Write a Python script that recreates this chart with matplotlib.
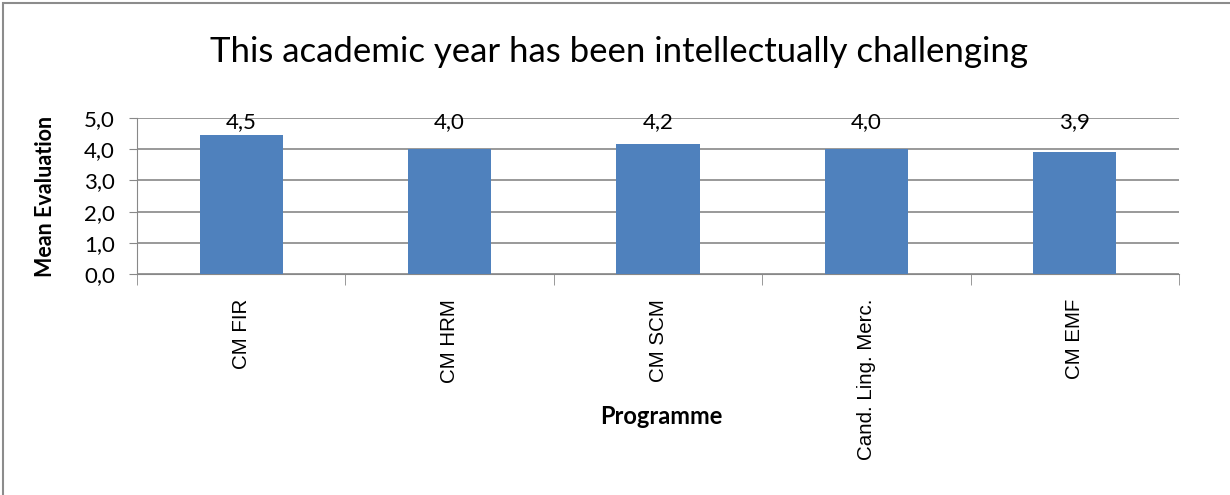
import matplotlib.pyplot as plt
from matplotlib.patches import Rectangle

programmes = ["CM FIR", "CM HRM", "CM SCM", "Cand. Ling. Merc.", "CM EMF"]
means = [4.45, 4.0, 4.17, 4.0, 3.91]
value_labels = ["4,5", "4,0", "4,2", "4,0", "3,9"]
y_ticks = [0, 1, 2, 3, 4, 5]
y_tick_labels = ["0,0", "1,0", "2,0", "3,0", "4,0", "5,0"]

plt.rcParams['font.family'] = ['Lato', 'DejaVu Sans']

fig = plt.figure(figsize=(12.3, 4.95), dpi=100)
ax = fig.add_axes([137 / 1230, 1 - 274 / 495, (1179 - 137) / 1230, (274 - 118) / 495])

x = list(range(len(programmes)))
ax.bar(x, means, width=0.4, color="#4F81BD", zorder=3)

# value labels sit just above the plot area, like Excel's outside-end labels
for xi, lab in zip(x, value_labels):
    ax.text(xi, 4.87, lab, ha="center", va="center", fontsize=16, zorder=4)

ax.set_xlim(-0.5, len(programmes) - 0.5)
ax.set_ylim(0, 5)
ax.set_yticks(y_ticks)
ax.set_yticklabels(y_tick_labels, fontsize=16)
ax.set_xticks(x)
ax.set_xticklabels(programmes, rotation=90, fontsize=14.8, family="Liberation Sans")
ax.set_xticks([i - 0.5 for i in range(len(programmes) + 1)], minor=True)
ax.tick_params(axis="x", which="major", length=0, pad=18)
ax.tick_params(axis="x", which="minor", length=8, color="#888888", direction="out")
ax.tick_params(axis="y", length=6, color="#888888", pad=10)

ax.grid(axis="y", color="#888888", linewidth=1.2, zorder=0)
for side in ["top", "right"]:
    ax.spines[side].set_visible(False)
ax.spines["left"].set_color("#888888")
ax.spines["bottom"].set_color("#888888")

ax.set_ylabel("Mean Evaluation", fontsize=15.5, fontweight="bold")
ax.yaxis.set_label_coords(-(137 - 46) / (1179 - 137), 0.5)
ax.set_xlabel("Programme", fontsize=17, fontweight="bold")
ax.xaxis.set_label_coords((661 - 137) / (1179 - 137), -(417 - 274) / (274 - 118))
ax.xaxis.label.set_va("center")
ax.yaxis.label.set_va("center")

fig.text(0.503, 1 - 52 / 495, "This academic year has been intellectually challenging",
         ha="center", va="center", fontsize=25)

fig.patches.append(Rectangle((3 / 1230, -0.1), 1.2, 1 - 3 / 495 + 0.1, transform=fig.transFigure,
                             fill=False, edgecolor="#8c8c8c", linewidth=1.5))

fig.savefig("out.png", dpi=100)
